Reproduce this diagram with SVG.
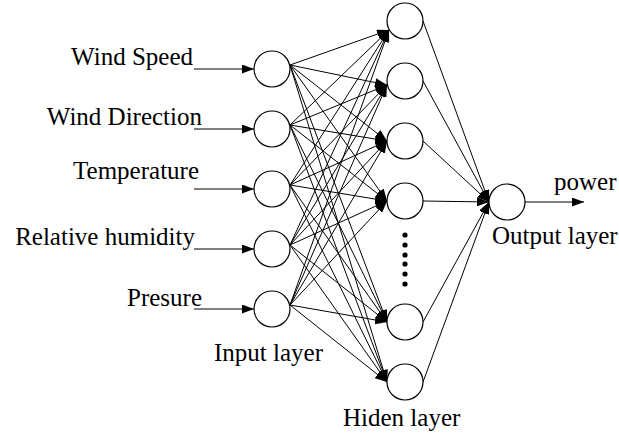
<svg xmlns="http://www.w3.org/2000/svg" width="619" height="434" viewBox="0 0 619 434">
<style>
.n{fill:#fff;stroke:#000;stroke-width:1.2}
.c{stroke:#000;stroke-width:1;fill:none;marker-end:url(#ah)}
text{font-family:'Liberation Serif','Times New Roman','DejaVu Serif',serif;font-size:25px;fill:#000}
.r{text-anchor:end}
.d{fill:#000}
</style>
<defs>
<marker id="ah" markerUnits="userSpaceOnUse" markerWidth="13" markerHeight="9" refX="12" refY="4.5" orient="auto">
<path d="M0,0 L12,4.5 L0,9 Z" fill="#000"/>
</marker>
</defs>
<rect width="619" height="434" fill="#fff"/>
<g id="connectors">
<line class="c" x1="194" y1="69" x2="254" y2="69"/>
<line class="c" x1="194" y1="129" x2="254" y2="129"/>
<line class="c" x1="194" y1="189" x2="254" y2="189"/>
<line class="c" x1="194" y1="249" x2="254" y2="249"/>
<line class="c" x1="194" y1="309" x2="254" y2="309"/>
<line class="c" x1="290" y1="65" x2="389" y2="30"/>
<line class="c" x1="290" y1="65" x2="387" y2="85"/>
<line class="c" x1="290" y1="65" x2="387" y2="141"/>
<line class="c" x1="290" y1="65" x2="387" y2="201"/>
<line class="c" x1="290" y1="65" x2="387" y2="322"/>
<line class="c" x1="290" y1="65" x2="387" y2="382"/>
<line class="c" x1="290" y1="125" x2="389" y2="30"/>
<line class="c" x1="290" y1="125" x2="387" y2="85"/>
<line class="c" x1="290" y1="125" x2="387" y2="141"/>
<line class="c" x1="290" y1="125" x2="387" y2="201"/>
<line class="c" x1="290" y1="125" x2="387" y2="322"/>
<line class="c" x1="290" y1="125" x2="387" y2="382"/>
<line class="c" x1="290" y1="185" x2="389" y2="30"/>
<line class="c" x1="290" y1="185" x2="387" y2="85"/>
<line class="c" x1="290" y1="185" x2="387" y2="141"/>
<line class="c" x1="290" y1="185" x2="387" y2="201"/>
<line class="c" x1="290" y1="185" x2="387" y2="322"/>
<line class="c" x1="290" y1="185" x2="387" y2="382"/>
<line class="c" x1="290" y1="245" x2="389" y2="30"/>
<line class="c" x1="290" y1="245" x2="387" y2="85"/>
<line class="c" x1="290" y1="245" x2="387" y2="141"/>
<line class="c" x1="290" y1="245" x2="387" y2="201"/>
<line class="c" x1="290" y1="245" x2="387" y2="322"/>
<line class="c" x1="290" y1="245" x2="387" y2="382"/>
<line class="c" x1="290" y1="305" x2="389" y2="30"/>
<line class="c" x1="290" y1="305" x2="387" y2="85"/>
<line class="c" x1="290" y1="305" x2="387" y2="141"/>
<line class="c" x1="290" y1="305" x2="387" y2="201"/>
<line class="c" x1="290" y1="305" x2="387" y2="322"/>
<line class="c" x1="290" y1="305" x2="387" y2="382"/>
<line class="c" x1="423" y1="21" x2="489" y2="202"/>
<line class="c" x1="423" y1="81" x2="489" y2="202"/>
<line class="c" x1="423" y1="141" x2="489" y2="202"/>
<line class="c" x1="423" y1="201" x2="489" y2="202"/>
<line class="c" x1="423" y1="322" x2="489" y2="202"/>
<line class="c" x1="423" y1="382" x2="489" y2="202"/>
<line class="c" x1="525" y1="202" x2="584" y2="202"/>
</g>
<g id="in1"><circle class="n" cx="272" cy="69" r="18"/><text class="r" x="193" y="65">Wind Speed</text></g>
<g id="in2"><circle class="n" cx="272" cy="129" r="18"/><text class="r" x="202" y="125">Wind Direction</text></g>
<g id="in3"><circle class="n" cx="272" cy="189" r="18"/><text class="r" x="199" y="179">Temperature</text></g>
<g id="in4"><circle class="n" cx="272" cy="249" r="18"/><text class="r" x="195" y="245">Relative humidity</text></g>
<g id="in5"><circle class="n" cx="272" cy="309" r="18"/><text class="r" x="202" y="306">Presure</text></g>
<g id="input-label"><text x="214" y="361">Input layer</text></g>
<g id="h1"><circle class="n" cx="405" cy="21" r="18"/></g>
<g id="h2"><circle class="n" cx="405" cy="81" r="18"/></g>
<g id="h3"><circle class="n" cx="405" cy="141" r="18"/></g>
<g id="h4"><circle class="n" cx="405" cy="201" r="18"/></g>
<g id="h-ellipsis">
<circle class="d" cx="405" cy="235" r="2.6"/>
<circle class="d" cx="405" cy="245" r="2.6"/>
<circle class="d" cx="405" cy="255" r="2.6"/>
<circle class="d" cx="405" cy="264" r="2.6"/>
<circle class="d" cx="405" cy="274" r="2.6"/>
<circle class="d" cx="405" cy="284" r="2.6"/>
</g>
<g id="h5"><circle class="n" cx="405" cy="322" r="18"/></g>
<g id="h6"><circle class="n" cx="405" cy="382" r="18"/></g>
<g id="hidden-label"><text x="343" y="426">Hiden layer</text></g>
<g id="out"><circle class="n" cx="507" cy="202" r="18"/><text x="492" y="244">Output layer</text></g>
<g id="power-label"><text x="554" y="190">power</text></g>
</svg>
